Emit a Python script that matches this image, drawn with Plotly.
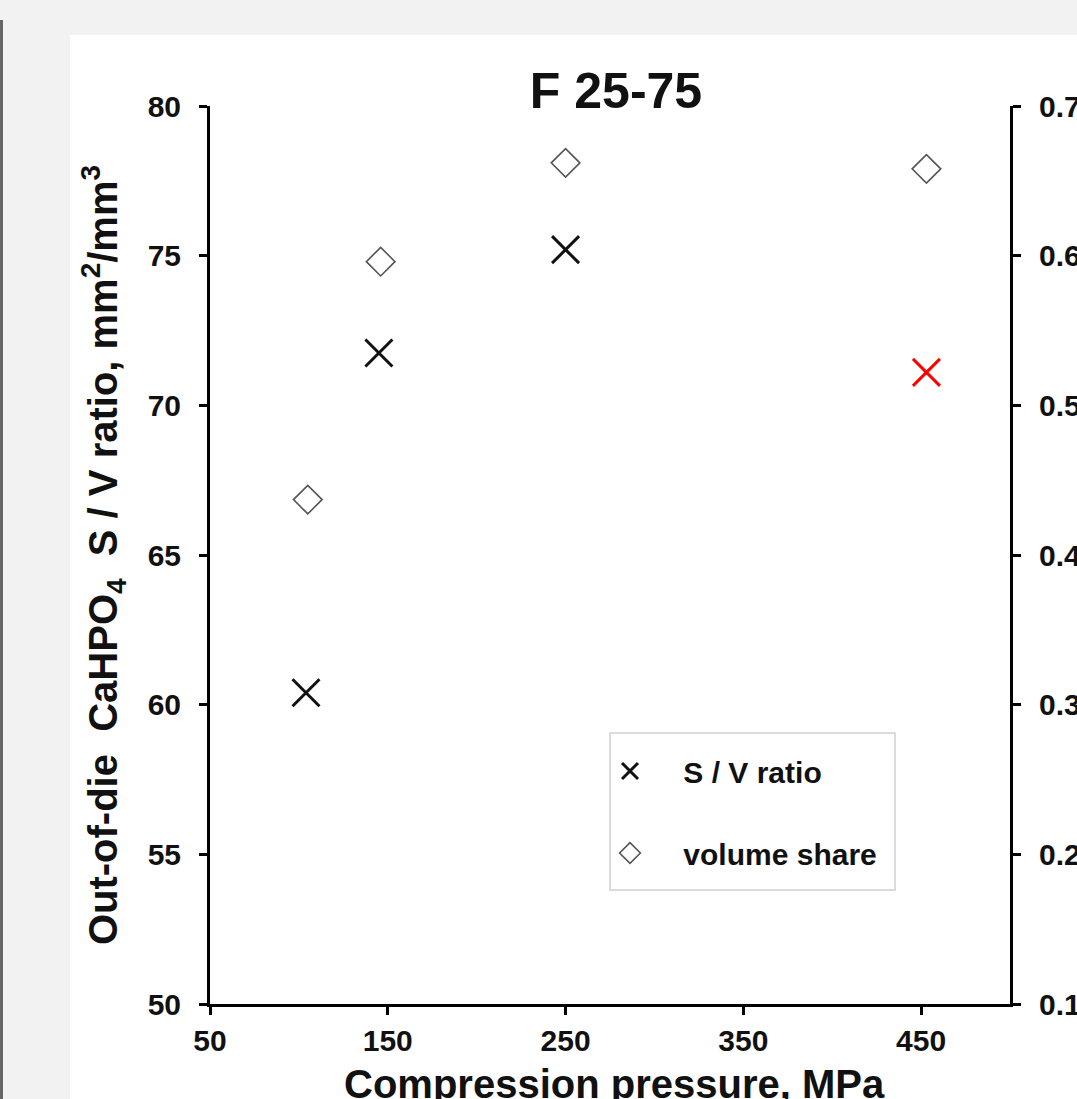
import plotly.graph_objects as go

# Data
sv_pressure = [104, 145, 250]
sv_ratio = [60.4, 71.75, 75.2]
sv_red_pressure = [453]
sv_red_ratio = [71.1]
vol_pressure = [105, 146, 250, 453]
vol_share = [0.437, 0.596, 0.662, 0.658]

x_ticks = [50, 150, 250, 350, 450]
y_ticks = [50, 55, 60, 65, 70, 75, 80]
y2_ticks = [0.1, 0.2, 0.3, 0.4, 0.5, 0.6, 0.7]

FONT = "Liberation Sans, Arial, sans-serif"
NB = "\u00a0"

W, H = 1077, 1099
L, R, T, B = 210, 1010, 106, 1004
PW, PH = R - L, B - T


def px(x):
    return (x - L) / PW


def py(y):
    return (B - y) / PH


fig = go.Figure()
fig.add_trace(go.Scatter(
    x=sv_pressure, y=sv_ratio, mode="markers", name=NB * 4 + "S / V ratio",
    legendgroup="a",
    marker=dict(symbol="x-thin-open", size=27, color="#111111",
                line=dict(color="#111111", width=3)),
))
fig.add_trace(go.Scatter(
    x=sv_red_pressure, y=sv_red_ratio, mode="markers", name="S / V ratio (red)",
    showlegend=False,
    marker=dict(symbol="x-thin-open", size=27, color="#ff0000",
                line=dict(color="#ff0000", width=3)),
))
fig.add_trace(go.Scatter(
    x=vol_pressure, y=vol_share, mode="markers", name=NB * 4 + "volume share",
    legendgroup="b", yaxis="y2",
    marker=dict(symbol="diamond-open", size=22, color="#555555",
                line=dict(color="#555555", width=1.6)),
))

axis_common = dict(
    showline=True, linecolor="black", linewidth=3,
    ticks="outside", ticklen=8, tickwidth=3, tickcolor="black",
    showgrid=False, zeroline=False, automargin=False,
    tickfont=dict(family=FONT, size=30, color="#111111", weight="bold"),
)

fig.update_layout(
    width=W, height=H,
    margin=dict(l=L, r=W - R, t=T, b=H - B, autoexpand=False),
    paper_bgcolor="#f2f2f2",
    plot_bgcolor="white",
    showlegend=True,
    title=dict(text="F 25-75", x=px(616), xref="paper", y=1 - 90 / H,
               yref="container", yanchor="middle", xanchor="center",
               font=dict(family=FONT, size=50, color="#111111", weight="bold")),
    xaxis=dict(range=[50, 500], tickvals=x_ticks, ticktext=[str(v) for v in x_ticks],
               ticklabelstandoff=0,
               **axis_common),
    yaxis=dict(range=[50, 80], tickvals=y_ticks, ticktext=[str(v) for v in y_ticks],
               ticklabelstandoff=12,
               title=dict(text="Out-of-die  CaHPO<sub>4</sub>  S / V ratio, mm<sup>2</sup>/mm<sup>3</sup>",
                          standoff=18,
                          font=dict(family=FONT, size=40, color="#111111", weight="bold")),
               **axis_common),
    yaxis2=dict(range=[0.1, 0.7], overlaying="y", side="right",
                tickvals=y2_ticks, ticktext=[f"{v:.1f}" for v in y2_ticks],
                ticklabelstandoff=12,
                **axis_common),
    legend=dict(x=px(610), y=py(745), xanchor="left", yanchor="top",
                bgcolor="rgba(0,0,0,0)", borderwidth=0,
                font=dict(family=FONT, size=30, color="#111111", weight="bold"),
                traceorder="grouped", tracegroupgap=40, itemwidth=30),
    annotations=[
        dict(text="Compression pressure, MPa", xref="paper", yref="paper",
             x=px(614), y=py(1060), xanchor="center", yanchor="top",
             showarrow=False,
             font=dict(family=FONT, size=40, color="#111111", weight="bold")),
    ],
    shapes=[
        dict(type="rect", xref="paper", yref="paper",
             x0=px(70), x1=1.3, y0=-0.3, y1=py(35),
             fillcolor="white", line=dict(width=0), layer="below"),
        dict(type="line", xref="paper", yref="paper",
             x0=px(1.5), x1=px(1.5), y0=-0.3, y1=py(20),
             line=dict(color="#666666", width=3)),
        dict(type="rect", xref="paper", yref="paper",
             x0=px(610), x1=px(895), y0=py(890), y1=py(733),
             fillcolor="white", line=dict(color="#d0d0d0", width=1.5), layer="below"),
    ],
)

fig.write_html("out.html", config={"displayModeBar": False},
               post_script="document.body.style.margin='0px';")
